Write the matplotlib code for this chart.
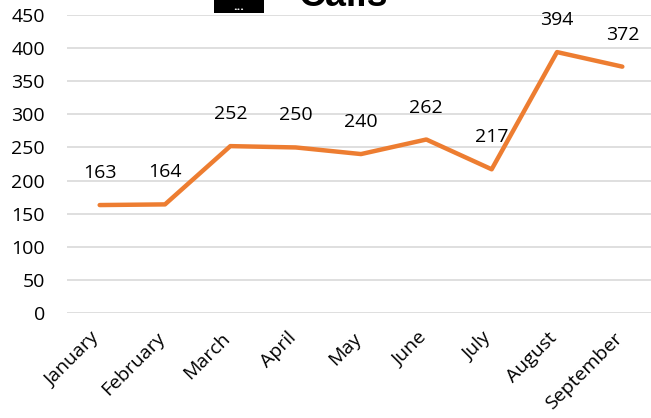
import matplotlib
matplotlib.use("Agg")
import matplotlib.pyplot as plt
import matplotlib.transforms as mtransforms
from matplotlib.patches import Rectangle

months = ["January", "February", "March", "April", "May", "June", "July", "August", "September"]
calls = [163, 164, 252, 250, 240, 262, 217, 394, 372]
yticks = [0, 50, 100, 150, 200, 250, 300, 350, 400, 450]

plt.rcParams['font.family'] = ['Open Sans', 'DejaVu Sans']

W, H = 651, 418
fig = plt.figure(figsize=(W/100, H/100), dpi=100)
ax = fig.add_axes([67/W, 1-313/H, 588/W, 298/H])

x = list(range(len(months)))
ax.plot(x, calls, color='#ED7D31', lw=3.2, solid_capstyle='round', solid_joinstyle='round', zorder=3)
for xi, v in zip(x, calls):
    ax.annotate(str(v), (xi, v), xytext=(0, 23), textcoords='offset points',
                ha='center', va='center', fontsize=14, color='#000000')

ax.set_xlim(-0.5, len(months)-0.5)
ax.set_ylim(0, 450)
ax.set_yticks(yticks)
ax.set_yticklabels([str(t) for t in yticks], fontsize=14)
ax.set_xticks(x)
ax.set_xticklabels(months, rotation=45, ha='right', rotation_mode='anchor', fontsize=14)
ax.tick_params(axis='x', length=0, pad=10)
ax.tick_params(axis='y', length=0, pad=16)
offset = mtransforms.ScaledTranslation(-9/100, -2/100, fig.dpi_scale_trans)
for lab in ax.get_xticklabels():
    lab.set_transform(lab.get_transform() + offset)
ax.grid(axis='y', color='#D9D9D9', lw=1.2)
ax.set_axisbelow(True)
for s in ax.spines.values():
    s.set_visible(False)

fig.text(343/W, 1-6/H, "Calls", ha='center', va='baseline', fontsize=27, fontweight='bold',
         family=['Liberation Sans', 'DejaVu Sans'])
fig.patches.append(Rectangle((214/W, 1-13/H), 50/W, 13/H, transform=fig.transFigure,
                             facecolor='black', edgecolor='none', zorder=5))
fig.text(239/W, 1-10/H, "...", ha='center', va='baseline', fontsize=9, color='white',
         fontweight='bold', zorder=6)

fig.savefig("out.png", dpi=100)
